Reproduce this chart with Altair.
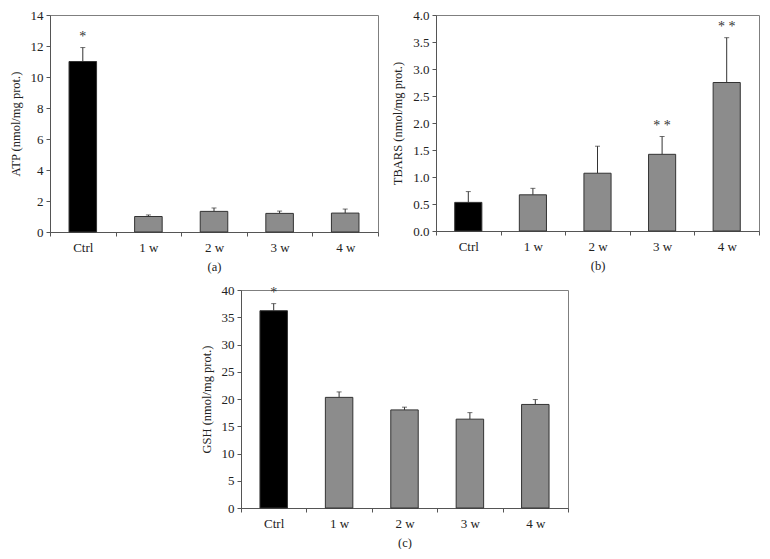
import altair as alt
import pandas as pd

groups = ["Ctrl", "1 w", "2 w", "3 w", "4 w"]

atp_mean = [11.0, 1.0, 1.33, 1.2, 1.22]
atp_err = [0.9, 0.1, 0.22, 0.15, 0.26]
atp_sig = ["*", "", "", "", ""]

tbars_mean = [0.53, 0.67, 1.07, 1.42, 2.75]
tbars_err = [0.2, 0.12, 0.5, 0.33, 0.83]
tbars_sig = ["", "", "", "* *", "* *"]

gsh_mean = [36.2, 20.3, 18.0, 16.3, 19.0]
gsh_err = [1.3, 1.0, 0.5, 1.2, 0.9]
gsh_sig = ["*", "", "", "", ""]

FONT = "Liberation Serif"


def panel(means, errs, sigs, ymax, yticks, ytitle, label, w, h, fmt):
    df = pd.DataFrame({
        "group": groups,
        "mean": means,
        "upper": [m + e for m, e in zip(means, errs)],
        "sig": sigs,
        "kind": ["ctrl"] + ["treat"] * 4,
    })
    x = alt.X("group:N", sort=groups,
              scale=alt.Scale(paddingInner=0, paddingOuter=0),
              axis=alt.Axis(title=label, labelAngle=0, tickBand="extent",
                            tickSize=4, titlePadding=6, labelPadding=5,
                            titleFontWeight="normal"))
    yscale = alt.Scale(domain=[0, ymax], nice=False)
    yaxis = alt.Axis(title=ytitle, values=yticks, format=fmt,
                     tickSize=4, titlePadding=8, labelPadding=3,
                     labelOverlap=False,
                     titleFontWeight="normal", grid=False)
    base = alt.Chart(df).encode(x=x)
    err = base.mark_rule(color="#333333", strokeWidth=1).encode(
        y=alt.Y("mean:Q", scale=yscale, axis=yaxis), y2="upper:Q")
    cap = base.mark_tick(color="#333333", thickness=1, size=5, orient="horizontal").encode(
        y=alt.Y("upper:Q", scale=yscale, axis=yaxis))
    bars = base.mark_bar(width=alt.RelativeBandSize(0.42), stroke="#333333",
                         strokeWidth=1).encode(
        y=alt.Y("mean:Q", scale=yscale, axis=yaxis),
        color=alt.Color("kind:N", scale=alt.Scale(domain=["ctrl", "treat"],
                                                  range=["#000000", "#8c8c8c"]),
                        legend=None))
    stars = base.mark_text(font=FONT, fontSize=14, dy=-11, color="#333333").encode(
        y=alt.Y("upper:Q", scale=yscale, axis=yaxis), text="sig:N")
    return alt.layer(err, cap, bars, stars).properties(width=w, height=h)


a = panel(atp_mean, atp_err, atp_sig, 14, [0, 2, 4, 6, 8, 10, 12, 14],
          "ATP (nmol/mg prot.)", "(a)", 328, 217, "d")
b = panel(tbars_mean, tbars_err, tbars_sig, 4.0,
          [0, 0.5, 1.0, 1.5, 2.0, 2.5, 3.0, 3.5, 4.0],
          "TBARS (nmol/mg prot.)", "(b)", 323, 216, ".1f")
c = panel(gsh_mean, gsh_err, gsh_sig, 40, [0, 5, 10, 15, 20, 25, 30, 35, 40],
          "GSH (nmol/mg prot.)", "(c)", 327, 218, "d")

spacer = alt.Chart(pd.DataFrame({"t": [""]})).mark_text().encode(
    text="t:N").properties(width=148, height=10,
                           view=alt.ViewBackground(stroke="transparent"))

top = alt.hconcat(a, b, spacing=12)
bottom = alt.hconcat(spacer, c, spacing=0)
chart = alt.vconcat(top, bottom, spacing=10).properties(
    padding={"left": 0, "top": 0, "right": 0, "bottom": 0}
).configure(font=FONT).configure_view(
    stroke="#7f7f7f", strokeWidth=1
).configure_axis(
    domainColor="#555555", tickColor="#555555", labelColor="#222222",
    titleColor="#222222", labelFont=FONT, titleFont=FONT,
    labelFontSize=13, titleFontSize=12.5
)

chart.save("out.html", embed_options={"renderer": "svg", "actions": False})
